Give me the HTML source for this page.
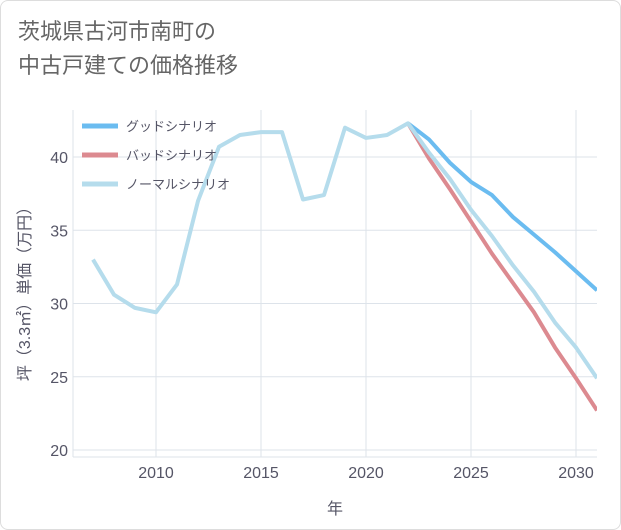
<!DOCTYPE html>
<html><head><meta charset="utf-8"><style>
body{margin:0;background:#fff;}
#wrap{position:relative;width:619px;height:528px;border:1px solid #ddd;border-radius:8px;overflow:hidden;background:#fff;font-family:"Liberation Sans","Noto Sans CJK JP",sans-serif;}
#title{position:absolute;left:17px;top:14px;font-size:22px;line-height:34px;color:#666;}
</style></head><body>
<div id="wrap">
<div id="title">茨城県古河市南町の<br>中古戸建ての価格推移</div>
<svg id="chart" width="621" height="530" style="position:absolute;left:-1px;top:-1px"></svg>
</div>
<script>
const years=[2007,2008,2009,2010,2011,2012,2013,2014,2015,2016,2017,2018,2019,2020,2021,2022,2023,2024,2025,2026,2027,2028,2029,2030,2031];
const normalVals=[33.0,30.6,29.7,29.4,31.3,37.0,40.7,41.5,41.7,41.7,37.1,37.4,42.0,41.3,41.5,42.3,40.3,38.5,36.4,34.6,32.6,30.8,28.7,27.0,24.9];
const goodYears=[2022,2023,2024,2025,2026,2027,2028,2029,2030,2031];
const goodVals=[42.3,41.2,39.6,38.3,37.4,35.9,34.7,33.5,32.2,30.9];
const badVals=[42.3,39.9,37.8,35.6,33.4,31.4,29.4,27.0,24.9,22.7];
const xTicks=[2010,2015,2020,2025,2030];
const yTicks=[20,25,30,35,40];
const seriesNames=["グッドシナリオ","バッドシナリオ","ノーマルシナリオ"];
const NS="http://www.w3.org/2000/svg";
const svg=document.getElementById('chart');
const X=v=>156+(v-2010)*21;
const Y=v=>450-(v-20)*14.65;
const L=73,R=597,T=110,B=457;
function mk(t,a){const e=document.createElementNS(NS,t);for(const k in a)e.setAttribute(k,a[k]);svg.appendChild(e);return e;}
for(const t of xTicks){const g=mk('line',{x1:X(t),x2:X(t),y1:T,y2:B,stroke:'#dde3ea','stroke-width':1});


const tx=mk('text',{x:X(t),y:478,'text-anchor':'middle','font-size':16,fill:'#556'});tx.textContent=t;

}
for(const t of yTicks){const g=mk('line',{x1:L,x2:R,y1:Y(t),y2:Y(t),stroke:'#dde3ea','stroke-width':1});


const tx=mk('text',{x:68,y:Y(t)+6,'text-anchor':'end','font-size':16,fill:'#556'});tx.textContent=t;

}
const ax=mk('line',{x1:L,x2:L,y1:T,y2:B,stroke:'#dde3ea'});


const ax2=mk('line',{x1:L,x2:R,y1:B,y2:B,stroke:'#dde3ea'});


const xt=mk('text',{x:335,y:514,'text-anchor':'middle','font-size':16,fill:'#556'});xt.textContent='年';


const yt=mk('text',{x:0,y:0,'text-anchor':'middle','font-size':16,fill:'#556',transform:'translate(30,290) rotate(-90)'});yt.textContent='坪（3.3㎡）単価（万円）';


const clip=mk('clipPath',{id:'pc'});const cr=document.createElementNS(NS,'rect');cr.setAttribute('x',L);cr.setAttribute('y',T-10);cr.setAttribute('width',R-L);cr.setAttribute('height',B-T+10);clip.appendChild(cr);
function line(xs,vs,color,name){const p=mk('polyline',{points:xs.map((x,i)=>X(x)+','+Y(vs[i])).join(' '),fill:'none',stroke:color,'stroke-width':4,'stroke-linejoin':'round','clip-path':'url(#pc)'});

}
line(goodYears,goodVals,'#6bbcf0','good-scenario-line');
line(goodYears,badVals,'#dc8a90','bad-scenario-line');
line(years,normalVals,'#b5dcec','normal-scenario-line');
const colors=['#6bbcf0','#dc8a90','#b5dcec'];
seriesNames.forEach((n,i)=>{const y=126+i*29;
const l=mk('line',{x1:82,x2:118,y1:y,y2:y,stroke:colors[i],'stroke-width':5});


const t=mk('text',{x:126,y:y+5,'font-size':13,fill:'#556'});t.textContent=n;

});
</script>
</body></html>
